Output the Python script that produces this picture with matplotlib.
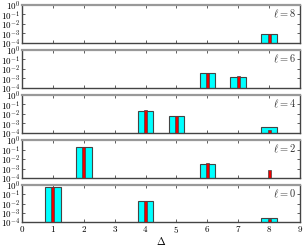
import matplotlib
matplotlib.use("Agg")
import matplotlib.pyplot as plt
import numpy as np

plt.rcParams['mathtext.fontset'] = 'cm'
plt.rcParams['font.family'] = 'serif'
plt.rcParams['font.serif'] = ['cmr10', 'DejaVu Serif']
plt.rcParams['axes.formatter.use_mathtext'] = True

# spin values, top panel first
ells = [8, 6, 4, 2, 0]

# cyan bars (Delta, weight) per panel
cyan_x = {8: [8], 6: [6, 7], 4: [4, 5, 8], 2: [2, 6], 0: [1, 4, 8]}
cyan_y = {8: [8e-4], 6: [4e-3, 1.3e-3], 4: [2.2e-2, 6e-3, 4.6e-4],
          2: [0.2, 3.2e-3], 0: [0.57, 1.9e-2, 2.8e-4]}
# red bars (Delta, weight) per panel
red_x = {8: [8], 6: [6, 7], 4: [4, 5, 8], 2: [2, 6, 8], 0: [1, 4, 8]}
red_y = {8: [8e-4], 6: [4e-3, 1.8e-3], 4: [2.4e-2, 6e-3, 1.8e-4],
         2: [0.2, 3.5e-3, 6.5e-4], 0: [0.57, 1.9e-2, 2.2e-4]}

W, H = 304, 245
fig = plt.figure(figsize=(W / 100, H / 100), dpi=100)

tops = [5, 50, 95, 140, 185]
bots = [43, 88, 133, 178, 222]
left, right = 22, 300

edge = '#444444'
for i, ell in enumerate(ells):
    ax = fig.add_axes([left / W, 1 - bots[i] / H, (right - left) / W, (bots[i] - tops[i]) / H])
    ax.set_yscale('log')
    ax.bar(cyan_x[ell], cyan_y[ell], width=0.5, bottom=1e-5, color='#00ffff',
           edgecolor=edge, linewidth=0.8, zorder=2)
    ax.bar(red_x[ell], red_y[ell], width=0.09, bottom=1e-5, color='#ee0000',
           edgecolor=edge, linewidth=0.5, zorder=3)
    ax.set_xlim(0, 9)
    ax.set_ylim(1e-4, 1)
    ax.set_yticks([1e-4, 1e-3, 1e-2, 1e-1, 1])
    ax.yaxis.set_minor_locator(matplotlib.ticker.NullLocator())
    ax.set_xticks(range(10))
    ax.tick_params(direction='in', length=2.5, width=0.6, color=edge,
                   top=True, right=True, labelsize=6.5, pad=1.5)
    if i < 4:
        ax.tick_params(labelbottom=False)
    for s in ax.spines.values():
        s.set_color(edge)
        s.set_linewidth(1.0)
    ax.spines['top'].set_color('#999999')
    ax.spines['top'].set_linewidth(1.6)
    ax.text(0.985, 0.93, r'$\ell = %d$' % ell, transform=ax.transAxes,
            ha='right', va='top', fontsize=7.5, color='#333333')
    if i == 4:
        ax.set_xlabel(r'$\Delta$', fontsize=7.5, labelpad=0)

fig.savefig('out.png', dpi=100)
